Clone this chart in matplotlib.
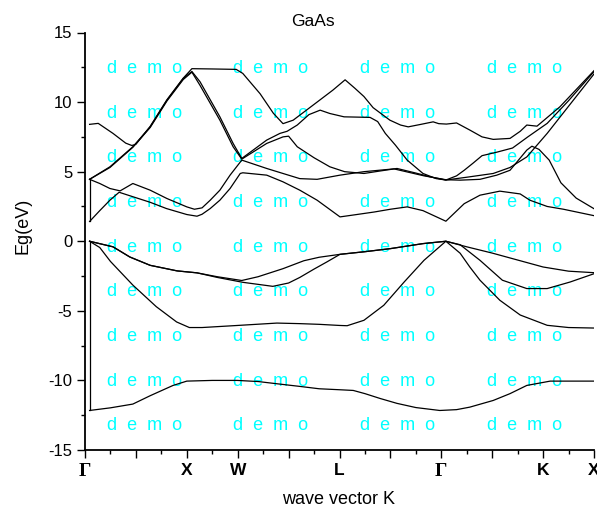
import matplotlib
matplotlib.use("Agg")
import matplotlib.pyplot as plt
from matplotlib.ticker import MultipleLocator

# ---------------- data (k-path coordinate, energy in eV) ----------------
# high-symmetry labels at integer positions of the k axis
tick_pos = [0, 1, 2, 3, 4, 5, 6, 7, 8, 9, 10]
tick_lab = ["Γ", "", "X", "W", "", "L", "", "Γ", "", "K", "X"]

b1_k = [0.09, 0.5, 0.94, 1.28, 1.73, 2.0, 2.5, 2.99, 3.4, 3.77, 4.22, 4.6, 5.0, 5.27, 5.5, 5.8, 6.13, 6.5, 6.97, 7.3, 7.56, 8.02, 8.35, 8.68, 9.14, 9.5, 10.05]
b1_e = [-12.16, -11.97, -11.7, -11.1, -10.36, -10.05, -10.0, -10.0, -10.08, -10.24, -10.43, -10.6, -10.67, -10.72, -10.95, -11.3, -11.65, -11.95, -12.16, -12.1, -11.92, -11.44, -10.95, -10.36, -10.05, -10.05, -10.05]

b2_k = [0.09, 0.29, 0.5, 0.94, 1.4, 1.8, 2.05, 2.3, 3.0, 3.77, 4.22, 4.6, 5.0, 5.15, 5.48, 5.87, 6.27, 6.66, 7.09, 7.37, 7.56, 7.76, 8.15, 8.55, 9.08, 9.5, 10.05]
b2_e = [0.0, -0.45, -1.45, -3.15, -4.7, -5.8, -6.2, -6.2, -6.05, -5.88, -5.92, -5.97, -6.05, -6.07, -5.68, -4.6, -2.93, -1.37, 0.0, -0.86, -1.85, -2.8, -4.24, -5.3, -6.04, -6.2, -6.24]

b3_k = [0.09, 0.55, 0.88, 1.28, 1.81, 2.2, 2.6, 3.1, 3.69, 4.0, 4.22, 4.5, 4.75, 5.01, 5.5, 6.0, 6.64, 7.09, 7.37, 7.76, 8.2, 8.68, 9.08, 9.53, 10.05]
b3_e = [0.0, -0.4, -1.13, -1.73, -2.13, -2.27, -2.6, -2.95, -3.24, -3.0, -2.6, -2.0, -1.49, -0.94, -0.75, -0.53, -0.17, 0.0, -0.25, -1.37, -2.8, -3.4, -3.4, -2.93, -2.27]

b4_k = [0.09, 0.55, 0.88, 1.28, 1.81, 2.2, 2.6, 3.08, 3.4, 3.89, 4.3, 4.6, 5.01, 5.5, 6.0, 6.64, 7.09, 7.5, 8.0, 8.5, 9.0, 9.5, 10.05]
b4_e = [0.0, -0.4, -1.13, -1.73, -2.13, -2.27, -2.55, -2.82, -2.55, -1.97, -1.4, -1.15, -0.94, -0.75, -0.53, -0.17, 0.0, -0.4, -0.85, -1.35, -1.85, -2.15, -2.27]

b5_k = [0.09, 0.29, 0.49, 0.67, 0.94, 1.28, 1.6, 2.0, 2.2, 2.3, 2.46, 2.65, 2.85, 3.05, 3.1, 3.57, 3.89, 4.22, 4.56, 5.01, 5.3, 5.68, 6.0, 6.33, 6.64, 7.09, 7.45, 7.76, 8.15, 8.55, 8.74, 9.08, 9.4, 10.05]
b5_e = [1.42, 2.2, 2.95, 3.52, 3.2, 2.8, 2.35, 1.92, 1.8, 1.94, 2.35, 2.95, 3.79, 4.87, 4.92, 4.75, 4.27, 3.67, 2.95, 1.75, 1.9, 2.1, 2.3, 2.47, 2.2, 1.44, 2.7, 3.31, 3.6, 3.4, 2.95, 2.5, 2.3, 1.8]

b6_k = [0.09, 0.29, 0.49, 0.69, 0.94, 1.28, 1.61, 2.0, 2.15, 2.3, 2.46, 2.65, 2.85, 3.08, 3.57, 3.89, 4.22, 4.56, 5.01, 5.48, 6.07, 6.66, 7.09, 7.37, 7.76, 8.09, 8.35, 8.68, 8.78, 8.92, 9.12, 9.35, 9.65, 10.05]
b6_e = [4.45, 4.15, 3.79, 3.62, 4.15, 3.67, 3.07, 2.47, 2.3, 2.4, 2.95, 3.67, 4.75, 5.83, 5.23, 4.87, 4.5, 4.45, 4.75, 5.0, 5.2, 4.7, 4.42, 4.39, 4.45, 4.75, 5.1, 6.55, 6.83, 6.6, 5.83, 4.2, 3.1, 2.23]

b7_k = [0.09, 0.49, 0.94, 1.28, 1.61, 1.93, 2.1, 2.26, 2.65, 2.91, 3.08, 3.57, 3.83, 3.97, 4.17, 4.4, 4.62, 4.81, 5.09, 5.6, 5.75, 5.9, 6.1, 6.33, 6.64, 6.9, 7.09, 7.3, 7.45, 7.62, 7.8, 8.09, 8.4, 8.7, 9.08, 9.5, 10.05]
b7_e = [4.45, 5.35, 6.79, 8.22, 10.14, 11.7, 12.2, 11.46, 8.94, 7.03, 5.95, 7.27, 7.75, 7.9, 8.35, 9.1, 9.42, 9.18, 8.94, 8.9, 8.6, 7.75, 6.9, 5.83, 4.87, 4.5, 4.4, 4.7, 5.1, 5.6, 6.15, 6.4, 6.7, 7.5, 8.47, 10.1, 12.4]

b8_k = [0.09, 0.49, 0.94, 1.28, 1.61, 1.93, 2.1, 2.26, 2.65, 2.91, 3.08, 3.57, 3.89, 4.0, 4.17, 4.5, 4.81, 5.1, 5.48, 5.8, 6.13, 6.5, 6.78, 7.09, 7.5, 8.02, 8.35, 8.68, 9.08, 9.5, 10.05]
b8_e = [4.45, 5.3, 6.75, 8.17, 10.08, 11.62, 12.15, 11.2, 8.7, 6.79, 5.9, 7.03, 7.5, 7.55, 6.79, 6.0, 5.35, 5.0, 4.87, 5.05, 5.23, 4.9, 4.63, 4.4, 4.6, 4.87, 5.3, 6.06, 7.75, 9.7, 12.25]

b9_k = [0.09, 0.26, 0.55, 0.8, 0.92, 1.0, 1.28, 1.61, 1.93, 2.1, 2.5, 2.97, 3.1, 3.44, 3.7, 3.89, 4.09, 4.22, 4.56, 4.87, 5.11, 5.3, 5.48, 5.66, 5.99, 6.2, 6.35, 6.6, 6.84, 6.95, 7.1, 7.3, 7.56, 7.8, 8.02, 8.35, 8.55, 8.68, 8.88, 9.33, 10.05]
b9_e = [8.4, 8.47, 7.75, 7.05, 6.88, 6.97, 8.25, 10.17, 11.72, 12.4, 12.38, 12.35, 12.06, 10.6, 9.2, 8.45, 8.7, 9.06, 10.0, 10.86, 11.6, 11.0, 10.4, 9.6, 8.7, 8.35, 8.22, 8.4, 8.58, 8.45, 8.42, 8.5, 7.99, 7.5, 7.32, 7.39, 7.9, 8.35, 8.27, 9.66, 12.45]

# vertical connector lines at the first k point
link_k = [0.09, 0.09]
link_lo = [-12.16, 0.0]
link_hi = [1.42, 4.45]

bands = [(b1_k, b1_e), (b2_k, b2_e), (b3_k, b3_e), (b4_k, b4_e), (b5_k, b5_e),
         (b6_k, b6_e), (b7_k, b7_e), (b8_k, b8_e), (b9_k, b9_e),
         (link_k, link_lo), (link_k, link_hi)]

# ---------------- figure ----------------
W, H = 597, 509
fig = plt.figure(figsize=(W / 100, H / 100), dpi=100)
fig.patch.set_facecolor("white")
ax = fig.add_axes([85 / W, 1 - 450 / H, (594 - 85) / W, (450 - 32.5) / H])

for k, e in bands:
    ax.plot(k, e, color="black", lw=0.9, zorder=3, solid_joinstyle="round")

ax.set_xlim(0, 10)
ax.set_ylim(-15, 15)

for s in ("top", "right"):
    ax.spines[s].set_visible(False)
for s in ("left", "bottom"):
    ax.spines[s].set_linewidth(1.3)

ax.set_xticks(tick_pos)
ax.set_xticklabels(tick_lab)
ax.xaxis.set_minor_locator(MultipleLocator(0.5))
ax.set_yticks([-15, -10, -5, 0, 5, 10, 15])
ax.set_yticklabels(["-15", "-10", "-5", "0", "5", "10", "15"])
ax.yaxis.set_minor_locator(MultipleLocator(2.5))

ax.tick_params(which="major", direction="out", length=5.5, width=1.0)
ax.tick_params(which="minor", direction="out", length=3.0, width=1.0)
ax.tick_params(axis="y", which="major", length=6, pad=3.0, labelsize=12)
ax.tick_params(axis="x", which="major", pad=4, labelsize=12.5)

for lbl in ax.get_yticklabels():
    lbl.set_fontfamily("Liberation Sans")
for lbl in ax.get_xticklabels():
    lbl.set_fontweight("bold")
    if lbl.get_text() == "Γ":
        lbl.set_fontfamily("Liberation Serif")
        lbl.set_fontsize(14)
    else:
        lbl.set_fontfamily("Liberation Sans")

# titles / labels
fig.text(313 / W, 1 - 26 / H, "GaAs", fontsize=12.5, family="Liberation Sans",
         ha="center", va="baseline")
fig.text(339 / W, 1 - 504 / H, "wave vector K", fontsize=13, family="Liberation Sans",
         ha="center", va="baseline")
fig.text(23 / W, 1 - 226 / H, "Eg(eV)", fontsize=13, family="Liberation Sans",
         ha="center", va="center", rotation=90)

# watermark
wm_cols = [107, 233, 360, 487]
wm_rows = [73.3 + 44.6 * i for i in range(9)]
for yb in wm_rows:
    for xl in wm_cols:
        ax.text(xl / W, 1 - yb / H, "d  e  m  o", transform=fig.transFigure,
                color="#00FFFF", fontsize=13, family="Liberation Sans",
                ha="left", va="baseline", zorder=1, clip_on=False)

fig.savefig("out.png", dpi=100)
